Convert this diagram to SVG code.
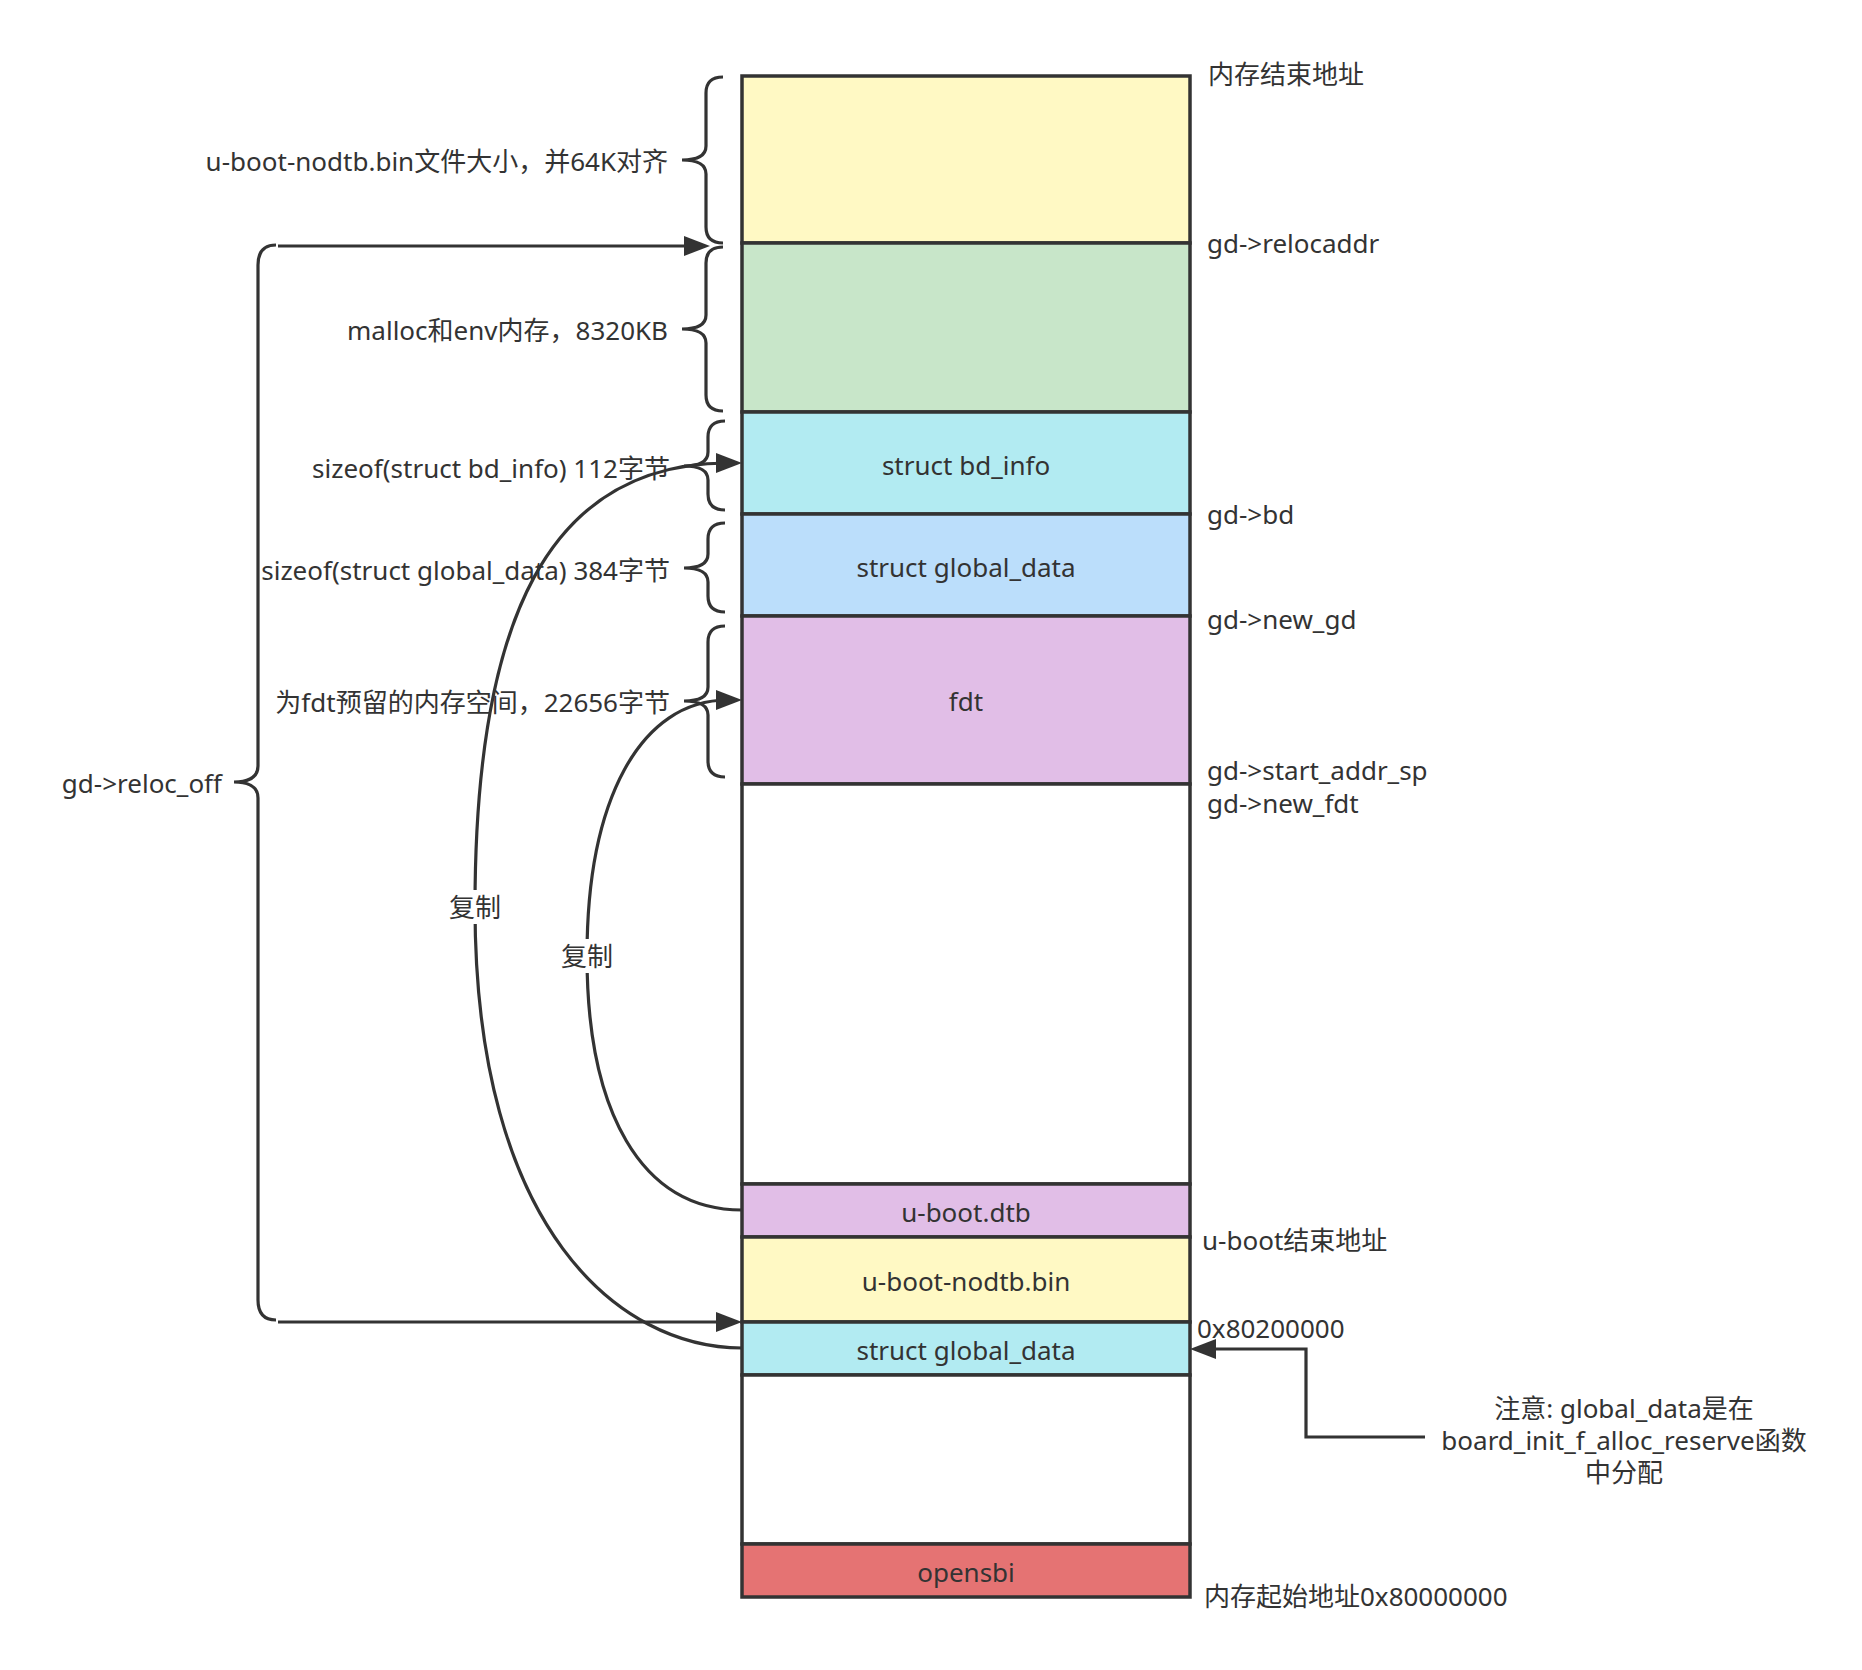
<svg xmlns="http://www.w3.org/2000/svg" width="1862" height="1670" viewBox="0 0 1862 1670">
<style>
text{font-family:"Noto Sans","Noto Sans CJK SC",sans-serif;font-size:26px;fill:#333333;dominant-baseline:central}
.c{text-anchor:middle}
.r{text-anchor:end}
.box{stroke:#333333;stroke-width:3.5}
.ln{fill:none;stroke:#333333;stroke-width:3.2}
</style>
<defs>
<marker id="ah" viewBox="0 0 26 20" refX="12" refY="10" markerWidth="26" markerHeight="20" markerUnits="userSpaceOnUse" orient="auto">
<path d="M0,0 L26,10 L0,20 z" fill="#333333"/>
</marker>
</defs>
<rect width="1862" height="1670" fill="#ffffff"/>

<g id="mem-top">
<rect class="box" x="742" y="76" width="448" height="167" fill="#fff9c4"/>
</g>
<g id="mem-malloc">
<rect class="box" x="742" y="243" width="448" height="169" fill="#c8e6c9"/>
</g>
<g id="mem-bdinfo">
<rect class="box" x="742" y="412" width="448" height="102" fill="#b2ebf2"/>
<text class="c" x="966" y="465">struct bd_info</text>
</g>
<g id="mem-newgd">
<rect class="box" x="742" y="514" width="448" height="102" fill="#bbdefb"/>
<text class="c" x="966" y="567">struct global_data</text>
</g>
<g id="mem-fdt">
<rect class="box" x="742" y="616" width="448" height="168" fill="#e1bee7"/>
<text class="c" x="966" y="701">fdt</text>
</g>
<g id="mem-free1">
<rect class="box" x="742" y="784" width="448" height="400" fill="#ffffff"/>
</g>
<g id="mem-dtb">
<rect class="box" x="742" y="1184" width="448" height="53" fill="#e1bee7"/>
<text class="c" x="966" y="1212">u-boot.dtb</text>
</g>
<g id="mem-nodtb">
<rect class="box" x="742" y="1237" width="448" height="85" fill="#fff9c4"/>
<text class="c" x="966" y="1281">u-boot-nodtb.bin</text>
</g>
<g id="mem-gd">
<rect class="box" x="742" y="1322" width="448" height="53" fill="#b2ebf2"/>
<text class="c" x="966" y="1350">struct global_data</text>
</g>
<g id="mem-free2">
<rect class="box" x="742" y="1375" width="448" height="169" fill="#ffffff"/>
</g>
<g id="mem-opensbi">
<rect class="box" x="742" y="1544" width="448" height="53" fill="#e57373"/>
<text class="c" x="966" y="1572">opensbi</text>
</g>

<g id="right-labels">
<text x="1208" y="74">内存结束地址</text>
<text x="1207" y="243">gd-&gt;relocaddr</text>
<text x="1207" y="514">gd-&gt;bd</text>
<text x="1207" y="619">gd-&gt;new_gd</text>
<text x="1207" y="770">gd-&gt;start_addr_sp</text>
<text x="1207" y="803">gd-&gt;new_fdt</text>
<text x="1202" y="1240">u-boot结束地址</text>
<text x="1197" y="1328">0x80200000</text>
<text x="1204" y="1596">内存起始地址0x80000000</text>
</g>

<g id="note">
<text class="c" x="1624" y="1408">注意: global_data是在<tspan x="1624" dy="32">board_init_f_alloc_reserve函数</tspan><tspan x="1624" dy="32">中分配</tspan></text>
</g>

<g id="left-labels">
<text class="r" x="668" y="161">u-boot-nodtb.bin文件大小，并64K对齐</text>
<text class="r" x="668" y="330">malloc和env内存，8320KB</text>
<text class="r" x="670" y="468">sizeof(struct bd_info) 112字节</text>
<text class="r" x="670" y="570">sizeof(struct global_data) 384字节</text>
<text class="r" x="670" y="702">为fdt预留的内存空间，22656字节</text>
<text class="r" x="222" y="783">gd-&gt;reloc_off</text>
</g>

<g id="braces">
<path class="ln" d="M723,77 Q706,77 706,93 L706,146 Q706,160 682,160 Q706,160 706,174 L706,227 Q706,243 723,243"/>
<path class="ln" d="M723,247 Q706,247 706,263 L706,315 Q706,329 682,329 Q706,329 706,343 L706,395 Q706,411 723,411"/>
<path class="ln" d="M725,421 Q708,421 708,437 L708,452 Q708,466 684,466 Q708,466 708,480 L708,494 Q708,510 725,510"/>
<path class="ln" d="M725,523 Q708,523 708,539 L708,554 Q708,568 684,568 Q708,568 708,582 L708,596 Q708,612 725,612"/>
<path class="ln" d="M725,626 Q708,626 708,642 L708,687 Q708,701 684,701 Q708,701 708,715 L708,761 Q708,777 725,777"/>
<path class="ln" d="M276,245 Q258,245 258,265 L258,766 Q258,782 234,782 Q258,782 258,798 L258,1300 Q258,1320 276,1320"/>
</g>

<g id="connectors">
<path class="ln" d="M278,246 L696,246" marker-end="url(#ah)"/>
<path class="ln" d="M278,1322 L728,1322" marker-end="url(#ah)"/>
<path class="ln" d="M1425,1437 L1306,1437 L1306,1349 L1204,1349" marker-end="url(#ah)"/>
<path class="ln" d="M742,1348 C620,1348 475,1230 475,907 C475,620 548,463 728,463" marker-end="url(#ah)"/>
<path class="ln" d="M742,1210 C640,1210 587,1110 587,956 C587,800 640,700 728,700" marker-end="url(#ah)"/>
<rect x="449" y="890" width="52" height="34" fill="#ffffff"/>
<text class="c" x="475" y="907">复制</text>
<rect x="561" y="939" width="52" height="34" fill="#ffffff"/>
<text class="c" x="587" y="956">复制</text>
</g>
</svg>
